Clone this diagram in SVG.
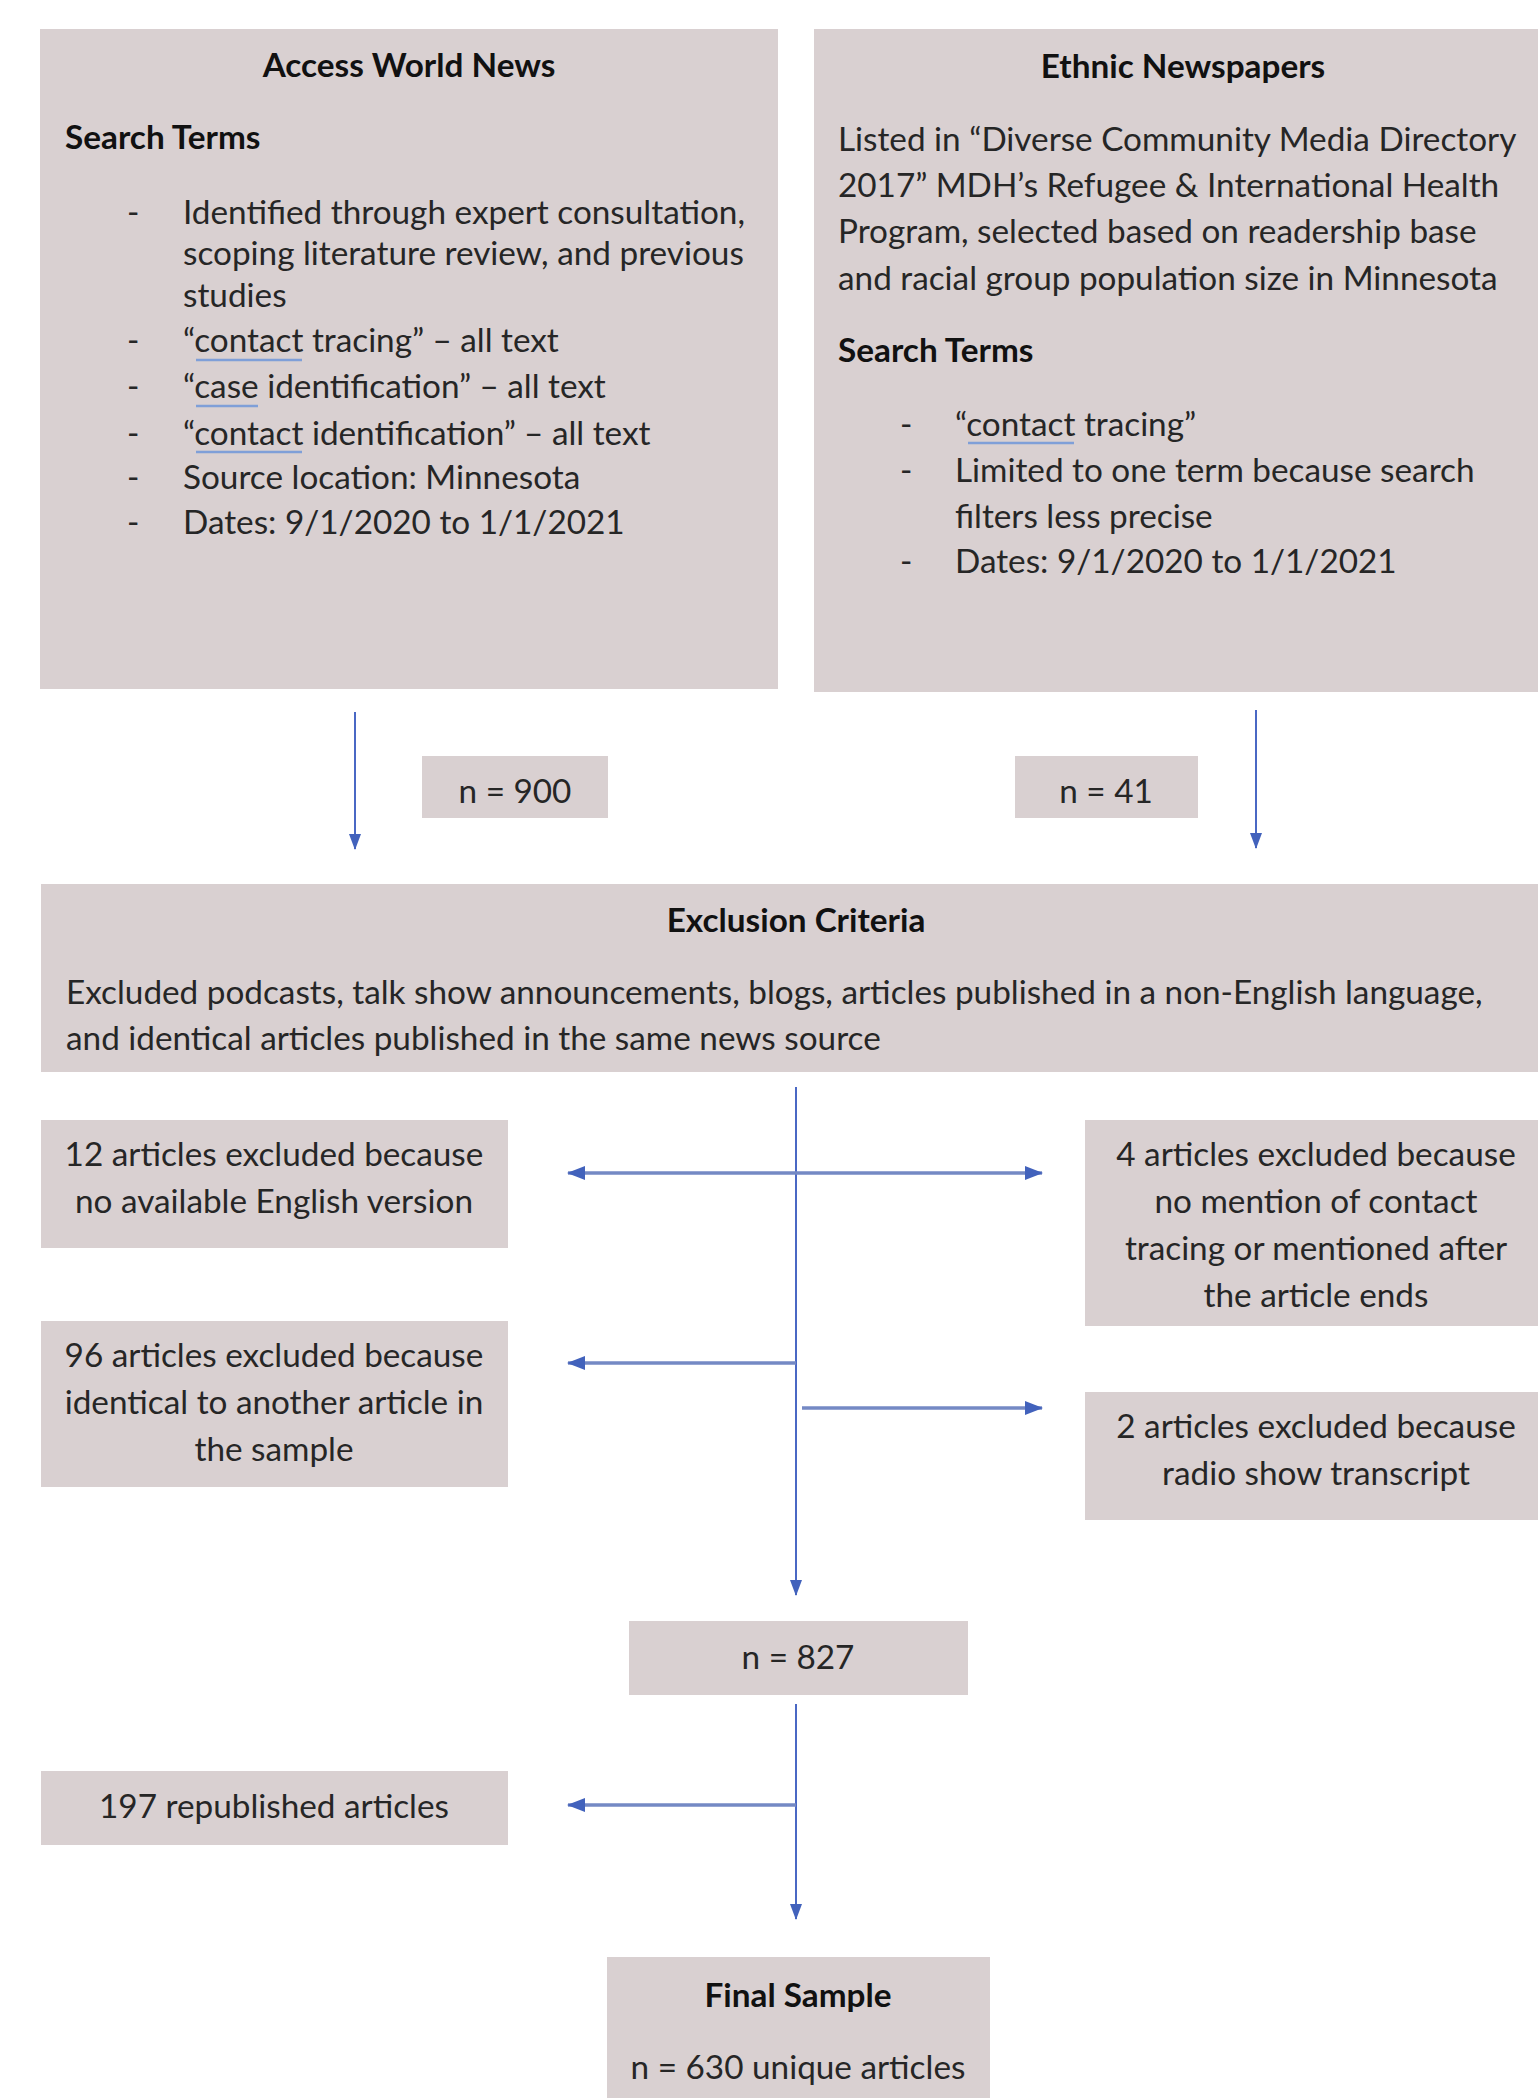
<svg xmlns="http://www.w3.org/2000/svg" width="1538" height="2098" viewBox="0 0 1538 2098">
<style>
.box{fill:#d9d0d1;}
.t{font-family:Lato,"Liberation Sans",sans-serif;font-size:33.3px;fill:#262626;}
.b{font-weight:bold;fill:#111;}
.m{text-anchor:middle;}
.c{fill:none;}
.thin{stroke:#4a68c4;stroke-width:2;}
.thick{stroke:#7489c4;stroke-width:3.5;}
.ul{stroke:#7f9fd8;stroke-width:2.5;}
</style>
<defs>
<marker id="ah" markerUnits="userSpaceOnUse" markerWidth="18" markerHeight="18" viewBox="0 0 18 18" refX="17" refY="9" orient="auto">
<path d="M0,2 L18,9 L0,16 Z" fill="#4262bc"/>
</marker>
<marker id="av" markerUnits="userSpaceOnUse" markerWidth="16" markerHeight="14" viewBox="0 0 16 14" refX="15" refY="7" orient="auto">
<path d="M0,1 L16,7 L0,13 Z" fill="#4262bc"/>
</marker>
</defs>
<rect width="1538" height="2098" fill="#ffffff"/>

<g id="access-world-news">
<rect class="box" x="40" y="29" width="738" height="660"/>
<text class="t b m" x="409" y="77">Access World News</text>
<text class="t b" x="65" y="149">Search Terms</text>
<text class="t" x="127" y="224">-</text><text class="t" x="183" y="224">Identified through expert consultation,</text>
<text class="t" x="183" y="265">scoping literature review, and previous</text>
<text class="t" x="183" y="307">studies</text>
<text class="t" x="127" y="352">-</text><text class="t" x="183" y="352">“contact tracing” – all text</text>
<text class="t" x="127" y="398">-</text><text class="t" x="183" y="398">“case identification” – all text</text>
<text class="t" x="127" y="445">-</text><text class="t" x="183" y="445">“contact identification” – all text</text>
<text class="t" x="127" y="489">-</text><text class="t" x="183" y="489">Source location: Minnesota</text>
<text class="t" x="127" y="534">-</text><text class="t" x="183" y="534">Dates: 9/1/2020 to 1/1/2021</text>
<line class="ul" x1="196" y1="360" x2="302" y2="360"/>
<line class="ul" x1="196" y1="406" x2="258" y2="406"/>
<line class="ul" x1="196" y1="452" x2="302" y2="452"/>
</g>

<g id="ethnic-newspapers">
<rect class="box" x="814" y="29" width="724" height="663"/>
<text class="t b m" x="1183" y="78">Ethnic Newspapers</text>
<text class="t" x="838" y="151">Listed in “Diverse Community Media Directory</text>
<text class="t" x="838" y="197">2017” MDH’s Refugee &amp; International Health</text>
<text class="t" x="838" y="243">Program, selected based on readership base</text>
<text class="t" x="838" y="290">and racial group population size in Minnesota</text>
<text class="t b" x="838" y="362">Search Terms</text>
<text class="t" x="900" y="436">-</text><text class="t" x="955" y="436">“contact tracing”</text>
<text class="t" x="900" y="482">-</text><text class="t" x="955" y="482">Limited to one term because search</text>
<text class="t" x="955" y="528">filters less precise</text>
<text class="t" x="900" y="573">-</text><text class="t" x="955" y="573">Dates: 9/1/2020 to 1/1/2021</text>
<line class="ul" x1="968" y1="443" x2="1074" y2="443"/>
</g>

<g id="n900">
<rect class="box" x="422" y="756" width="186" height="62"/>
<text class="t m" x="515" y="803">n = 900</text>
</g>

<g id="n41">
<rect class="box" x="1015" y="756" width="183" height="62"/>
<text class="t m" x="1106" y="803">n = 41</text>
</g>

<g id="exclusion-criteria">
<rect class="box" x="41" y="884" width="1497" height="188"/>
<text class="t b m" x="796" y="932">Exclusion Criteria</text>
<text class="t" x="66" y="1004">Excluded podcasts, talk show announcements, blogs, articles published in a non-English language,</text>
<text class="t" x="66" y="1050">and identical articles published in the same news source</text>
</g>

<g id="excl-12">
<rect class="box" x="41" y="1120" width="467" height="128"/>
<text class="t m" x="274" y="1166">12 articles excluded because</text>
<text class="t m" x="274" y="1213">no available English version</text>
</g>

<g id="excl-4">
<rect class="box" x="1085" y="1120" width="453" height="206"/>
<text class="t m" x="1316" y="1166">4 articles excluded because</text>
<text class="t m" x="1316" y="1213">no mention of contact</text>
<text class="t m" x="1316" y="1260">tracing or mentioned after</text>
<text class="t m" x="1316" y="1307">the article ends</text>
</g>

<g id="excl-96">
<rect class="box" x="41" y="1321" width="467" height="166"/>
<text class="t m" x="274" y="1367">96 articles excluded because</text>
<text class="t m" x="274" y="1414">identical to another article in</text>
<text class="t m" x="274" y="1461">the sample</text>
</g>

<g id="excl-2">
<rect class="box" x="1085" y="1392" width="453" height="128"/>
<text class="t m" x="1316" y="1438">2 articles excluded because</text>
<text class="t m" x="1316" y="1485">radio show transcript</text>
</g>

<g id="n827">
<rect class="box" x="629" y="1621" width="339" height="74"/>
<text class="t m" x="798" y="1669">n = 827</text>
</g>

<g id="republished">
<rect class="box" x="41" y="1771" width="467" height="74"/>
<text class="t m" x="274" y="1818">197 republished articles</text>
</g>

<g id="final-sample">
<rect class="box" x="607" y="1957" width="383" height="141"/>
<text class="t b m" x="798" y="2007">Final Sample</text>
<text class="t m" x="798" y="2079">n = 630 unique articles</text>
</g>

<g id="connectors">
<line class="c thin" x1="355" y1="712" x2="355" y2="849" marker-end="url(#av)"/>
<line class="c thin" x1="1256" y1="710" x2="1256" y2="848" marker-end="url(#av)"/>
<line class="c thin" x1="796" y1="1087" x2="796" y2="1595" marker-end="url(#av)"/>
<line class="c thick" x1="796" y1="1173" x2="568" y2="1173" marker-end="url(#ah)"/>
<line class="c thick" x1="796" y1="1173" x2="1042" y2="1173" marker-end="url(#ah)"/>
<line class="c thick" x1="796" y1="1363" x2="568" y2="1363" marker-end="url(#ah)"/>
<line class="c thick" x1="802" y1="1408" x2="1042" y2="1408" marker-end="url(#ah)"/>
<line class="c thin" x1="796" y1="1704" x2="796" y2="1919" marker-end="url(#av)"/>
<line class="c thick" x1="796" y1="1805" x2="568" y2="1805" marker-end="url(#ah)"/>
</g>
</svg>
